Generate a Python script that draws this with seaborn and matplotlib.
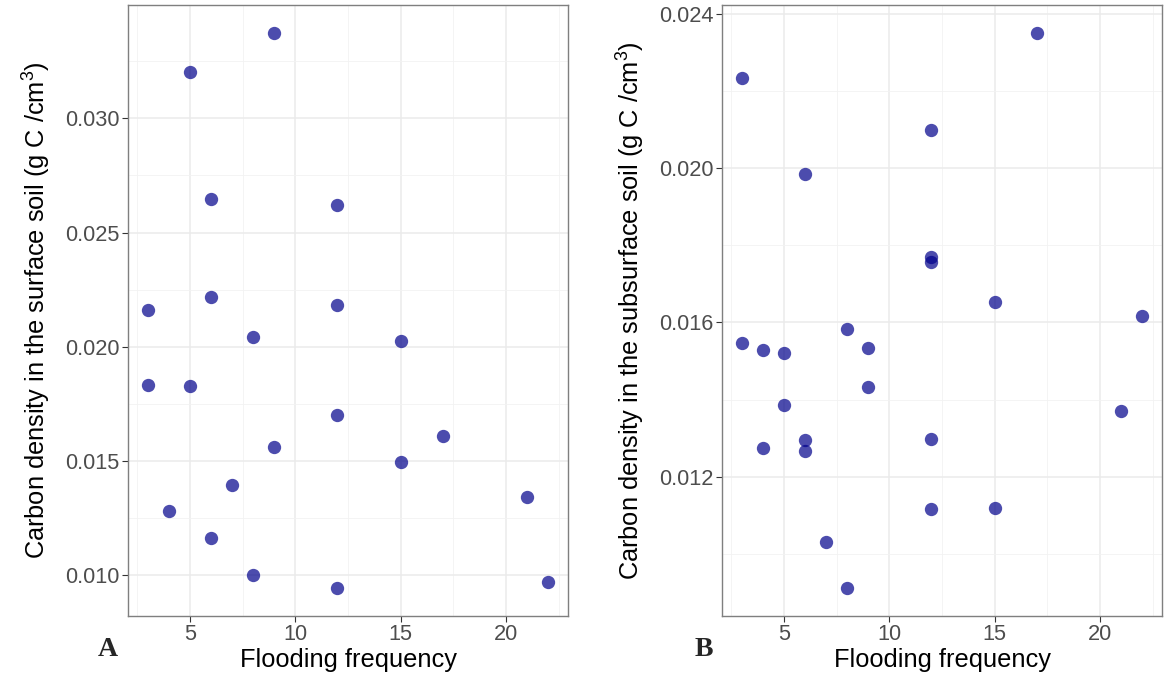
import numpy as np
import pandas as pd
import matplotlib
matplotlib.use("Agg")
import matplotlib.pyplot as plt
import seaborn as sns
from matplotlib.ticker import MultipleLocator

# ---- data ----
surface_freq = [9, 5, 6, 12, 3, 6, 12, 8, 15, 3, 5, 12, 9, 17, 15, 7, 4, 21, 6, 8, 12, 22]
surface_carbon = [0.03374, 0.03204, 0.02646, 0.02622, 0.02162, 0.02216, 0.02183,
                  0.02045, 0.02024, 0.01831, 0.01830, 0.01700, 0.01564, 0.01608,
                  0.01498, 0.01394, 0.01281, 0.01342, 0.01165, 0.01000, 0.00944, 0.00973]

subsurface_freq = [17, 3, 12, 6, 12, 12, 15, 22, 8, 3, 4, 5, 9, 9, 5, 21, 12, 6, 6, 4,
                   12, 15, 7, 8]
subsurface_carbon = [0.02351, 0.02233, 0.02100, 0.01984, 0.01769, 0.01756, 0.01652,
                     0.01617, 0.01584, 0.01546, 0.01528, 0.01520, 0.01534, 0.01433,
                     0.01385, 0.01371, 0.01299, 0.01296, 0.01266, 0.01274, 0.01116,
                     0.01119, 0.01030, 0.00911]

x_ticks = [5, 10, 15, 20]
left_yticks = [0.010, 0.015, 0.020, 0.025, 0.030]
right_yticks = [0.012, 0.016, 0.020, 0.024]
panel_labels = ["A", "B"]
x_title = "Flooding frequency"
left_ytitle = "Carbon density in the surface soil (g C /cm$^3$)"
right_ytitle = "Carbon density in the subsurface soil (g C /cm$^3$)"

sns.set_theme(style="white")
plt.rcParams["font.family"] = ["Liberation Sans", "DejaVu Sans"]
plt.rcParams["mathtext.default"] = "regular"

fig = plt.figure(figsize=(11.67, 6.78), dpi=100)
W, H = 1167, 678
ax1 = fig.add_axes([128 / W, (H - 616) / H, 440 / W, 611 / H])
ax2 = fig.add_axes([722 / W, (H - 616) / H, 440 / W, 611 / H])

df1 = pd.DataFrame({"freq": surface_freq, "carbon": surface_carbon})
df2 = pd.DataFrame({"freq": subsurface_freq, "carbon": subsurface_carbon})

point_color = "#00008B"
for ax, df, yt, ytitle, ystep in [
    (ax1, df1, left_yticks, left_ytitle, 0.005),
    (ax2, df2, right_yticks, right_ytitle, 0.004),
]:
    ax.set_axisbelow(True)
    sns.scatterplot(data=df, x="freq", y="carbon", ax=ax, color=point_color,
                    alpha=0.7, s=92, linewidth=0, zorder=3)
    ax.margins(x=0.05, y=0.05)
    ax.set_xticks(x_ticks)
    ax.xaxis.set_minor_locator(MultipleLocator(2.5))
    ax.set_yticks(yt)
    ax.yaxis.set_minor_locator(MultipleLocator(ystep / 2))
    ax.set_yticklabels([f"{v:.3f}" for v in yt])
    ax.grid(which="major", color="#EBEBEB", linewidth=1.1)
    ax.grid(which="minor", color="#F2F2F2", linewidth=0.6)
    for sp in ax.spines.values():
        sp.set_color("#7F7F7F")
        sp.set_linewidth(1.0)
    ax.tick_params(axis="both", which="major", direction="out", length=4, width=0.8,
                   color="#333333", labelsize=15.7, labelcolor="#4D4D4D", pad=2,
                   bottom=True, left=True)
    ax.tick_params(axis="both", which="minor", length=0)
    ax.set_xlabel(x_title, fontsize=18.3, color="black", labelpad=2)
    ax.set_ylabel(ytitle, fontsize=18.3, color="black", labelpad=9)

fig.text(108 / W, 1 - 650 / H, panel_labels[0], family="Liberation Serif",
         fontweight="bold", fontsize=20, ha="center", va="center")
fig.text(704 / W, 1 - 650 / H, panel_labels[1], family="Liberation Serif",
         fontweight="bold", fontsize=20, ha="center", va="center")

fig.savefig("out.png", dpi=100, facecolor="white")
